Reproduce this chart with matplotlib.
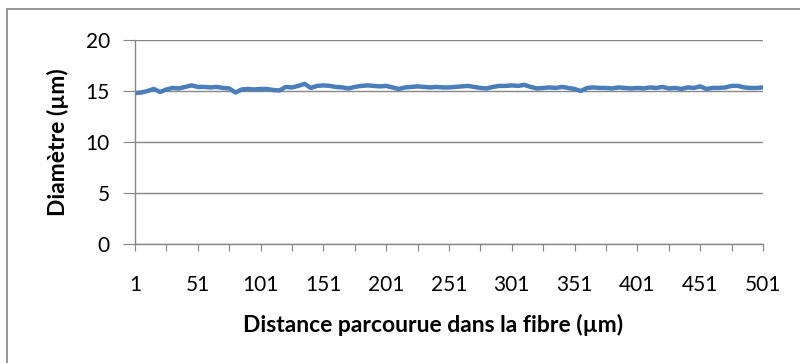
import numpy as np
import matplotlib.pyplot as plt
from matplotlib.patches import Rectangle

# diameter measured every 5 um along the fibre
distance = np.arange(1, 502, 5)
diametre = [
    14.80, 14.85, 15.00, 15.20, 14.90, 15.15, 15.30, 15.25, 15.40, 15.55,
    15.40, 15.40, 15.35, 15.40, 15.30, 15.25, 14.85, 15.15, 15.20, 15.15,
    15.20, 15.20, 15.10, 15.05, 15.40, 15.35, 15.50, 15.70, 15.30, 15.50,
    15.55, 15.50, 15.40, 15.35, 15.25, 15.40, 15.50, 15.55, 15.50, 15.45,
    15.50, 15.35, 15.20, 15.35, 15.40, 15.45, 15.40, 15.35, 15.40, 15.35,
    15.35, 15.40, 15.45, 15.50, 15.40, 15.30, 15.25, 15.40, 15.50, 15.50,
    15.55, 15.50, 15.60, 15.40, 15.25, 15.30, 15.35, 15.30, 15.40, 15.30,
    15.20, 15.00, 15.30, 15.35, 15.30, 15.30, 15.25, 15.35, 15.30, 15.25,
    15.30, 15.25, 15.35, 15.30, 15.40, 15.25, 15.30, 15.20, 15.35, 15.30,
    15.45, 15.20, 15.30, 15.30, 15.35, 15.50, 15.50, 15.35, 15.30, 15.30,
    15.35,
]
xticks_major = list(range(1, 502, 25))
xtick_labels = list(range(1, 502, 50))
yticks = [0, 5, 10, 15, 20]

plt.rcParams['font.family'] = ['Lato', 'DejaVu Sans']
grey = '#868686'

fig = plt.figure(figsize=(8, 3.63), dpi=100)
fig.patches.append(Rectangle((7 / 800, -0.1), 1.1, 1 - 9 / 363 + 0.1,
                             transform=fig.transFigure, fill=False,
                             edgecolor='#8c8c8c', linewidth=1.3))

ax = fig.add_axes([135 / 800, 1 - 244 / 363, (763 - 135) / 800, (244 - 40) / 363])
ax.plot(distance, diametre, color='#4a7ebb', linewidth=3.2, solid_capstyle='round')

ax.set_xlim(1, 501)
ax.set_ylim(0, 20)
ax.set_yticks(yticks)
ax.set_xticks(xticks_major)
ax.set_xticklabels([str(v) if v in xtick_labels else '' for v in xticks_major])
ax.grid(axis='y', color=grey, linewidth=1)
ax.set_axisbelow(True)

for side in ['top', 'right']:
    ax.spines[side].set_visible(False)
for side in ['left', 'bottom']:
    ax.spines[side].set_color(grey)
    ax.spines[side].set_linewidth(1)

ax.tick_params(axis='y', direction='out', length=9, color=grey, labelsize=15, pad=9)
ax.tick_params(axis='x', direction='out', length=5, color=grey, labelsize=15, pad=17)

ax.set_xlabel('Distance parcourue dans la fibre (µm)', fontsize=16.5, fontweight='bold')
ax.xaxis.set_label_coords(0.475, -0.345)
ax.set_ylabel('Diamètre (µm)', fontsize=16.5, fontweight='bold', labelpad=12)

fig.savefig('out.png', dpi=100)
